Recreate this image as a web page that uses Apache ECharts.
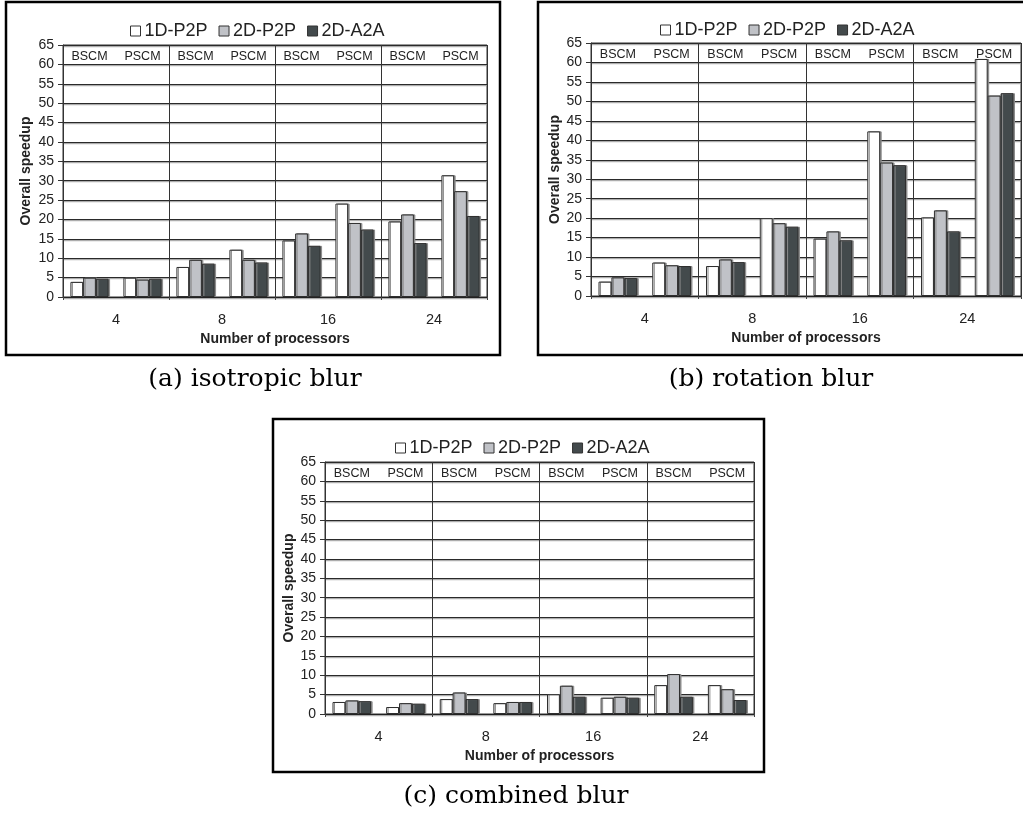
<!DOCTYPE html>
<html>
<head>
<meta charset="utf-8">
<script src="https://cdn.jsdelivr.net/npm/echarts@6/dist/echarts.min.js"></script>
<style>
html,body{margin:0;padding:0;background:#fff;}
#c{width:1023px;height:817px;}
</style>
</head>
<body>
<div id="c"></div>
<script>
// ---- data ----
const groups = ['4', '8', '16', '24'];
const methods = ['BSCM', 'PSCM'];
const seriesNames = ['1D-P2P', '2D-P2P', '2D-A2A'];
const yTicks = {min: 0, max: 65, interval: 5};

// isotropic blur
const iso1DP2P = [3.9, 5.0, 7.75, 12.2, 14.6, 24.1, 19.5, 31.4];
const iso2DP2P = [5.0, 4.5, 9.6, 9.6, 16.4, 19.1, 21.3, 27.3];
const iso2DA2A = [4.7, 4.7, 8.6, 8.9, 13.2, 17.4, 13.9, 20.9];
// rotation blur
const rot1DP2P = [3.7, 8.6, 7.7, 20.0, 14.75, 42.3, 20.2, 60.9];
const rot2DP2P = [4.8, 7.9, 9.4, 18.7, 16.6, 34.3, 22.0, 51.5];
const rot2DA2A = [4.6, 7.7, 8.7, 17.8, 14.3, 33.6, 16.6, 52.1];
// combined blur
const com1DP2P = [3.1, 1.8, 3.85, 2.8, 5.1, 4.2, 7.45, 7.45];
const com2DP2P = [3.5, 2.8, 5.55, 3.1, 7.3, 4.45, 10.3, 6.4];
const com2DA2A = [3.3, 2.65, 3.85, 3.1, 4.45, 4.2, 4.45, 3.6];

const captions = ['(a) isotropic blur', '(b) rotation blur', '(c) combined blur'];
const yName = 'Overall speedup';
const xName = 'Number of processors';

// ---- layout / style ----
const subCats = [];
groups.forEach(() => methods.forEach(m => subCats.push(m)));
const colors = ['#ffffff', '#c0c2c7', '#434a4c'];
const font = 'Liberation Sans, Arial, sans-serif';

const panels = [
  {grid: {left: 63, top: 45, width: 424, height: 252}, legend: {left: 125, top: 17}, yGap: 30,
   data: [iso1DP2P, iso2DP2P, iso2DA2A]},
  {grid: {left: 591, top: 43, width: 430, height: 253}, legend: {left: 655, top: 16}, yGap: 26,
   data: [rot1DP2P, rot2DP2P, rot2DA2A]},
  {grid: {left: 325, top: 462, width: 429, height: 252}, legend: {left: 390, top: 434}, yGap: 25,
   data: [com1DP2P, com2DP2P, com2DA2A]}
];

const option = {
  animation: false,
  backgroundColor: '#fff',
  textStyle: {fontFamily: font},
  grid: [], xAxis: [], yAxis: [], series: [], legend: [],
  graphic: []
};

panels.forEach((p, i) => {
  option.grid.push(Object.assign({show: true, borderColor: '#333', borderWidth: 1, backgroundColor: 'transparent'}, p.grid));
  // 8 sub-categories for bars
  option.xAxis.push({
    type: 'category', gridIndex: i, data: subCats, position: 'bottom',
    axisLine: {show: true, lineStyle: {color: '#222', width: 1}},
    axisTick: {show: false}, axisLabel: {show: false}, splitLine: {show: false}
  });
  // 4 groups for labels + separators
  option.xAxis.push({
    type: 'category', gridIndex: i, data: groups, position: 'bottom',
    axisLine: {show: false},
    axisTick: {show: true, length: 3, interval: 0, lineStyle: {color: '#444'}},
    axisLabel: {show: true, fontSize: 14.5, color: '#222', margin: 15, fontFamily: font},
    splitLine: {show: true, interval: 0, lineStyle: {color: '#333', width: 1}},
    name: xName, nameLocation: 'middle', nameGap: 35,
    nameTextStyle: {fontSize: 14, fontWeight: 'bold', color: '#222', fontFamily: font}
  });
  // top labels BSCM/PSCM
  option.xAxis.push({
    type: 'category', gridIndex: i, data: subCats, position: 'top',
    axisLine: {show: false}, axisTick: {show: false}, splitLine: {show: false},
    axisLabel: {show: true, inside: true, interval: 0, fontSize: 12.5, color: '#222', margin: 5, fontFamily: font}
  });
  option.yAxis.push({
    type: 'value', gridIndex: i, min: yTicks.min, max: yTicks.max, interval: yTicks.interval,
    axisLine: {show: true, lineStyle: {color: '#333'}},
    axisTick: {show: true, length: 5, lineStyle: {color: '#333'}},
    axisLabel: {fontSize: 14, color: '#222', margin: 9, fontFamily: font},
    splitLine: {show: true, lineStyle: {color: '#2a2a2a', width: 1, shadowColor: '#9a9a9a', shadowOffsetY: 1.2, shadowBlur: 0}},
    name: yName, nameLocation: 'middle', nameRotate: 90, nameGap: p.yGap,
    nameTextStyle: {fontSize: 14, fontWeight: 'bold', color: '#222', fontFamily: font}
  });
  seriesNames.forEach((n, k) => {
    option.series.push({
      type: 'bar', name: n, xAxisIndex: i * 3, yAxisIndex: i,
      data: p.data[k], barGap: '0%', barCategoryGap: '28%',
      itemStyle: {color: colors[k], borderColor: '#2e2e2e', borderWidth: 1,
        shadowColor: '#8a8a8a', shadowOffsetX: 1.5, shadowBlur: 0},
      z: 3
    });
  });
  option.legend.push({
    data: seriesNames, left: p.legend.left, top: p.legend.top, icon: 'rect',
    itemWidth: 10, itemHeight: 10, itemGap: 11,
    textStyle: {fontSize: 18, color: '#222', fontFamily: font, padding: [0, 0, 0, -1]},
    selectedMode: false,
    itemStyle: {borderColor: '#333', borderWidth: 1}
  });
});

// frames and captions
const capFont = '25px "DejaVu Serif", serif';
option.graphic = [
  {type: 'rect', shape: {x: 6, y: 2, width: 494, height: 353}, style: {fill: 'none', stroke: '#000', lineWidth: 2.5}, silent: true},
  {type: 'rect', shape: {x: 538, y: 2, width: 490, height: 353}, style: {fill: 'none', stroke: '#000', lineWidth: 2.5}, silent: true},
  {type: 'rect', shape: {x: 273, y: 419, width: 491, height: 353}, style: {fill: 'none', stroke: '#000', lineWidth: 2.5}, silent: true},
  {type: 'text', x: 255, y: 379, style: {text: captions[0], font: capFont, fill: '#000', textAlign: 'center', textVerticalAlign: 'middle'}},
  {type: 'text', x: 771, y: 379, style: {text: captions[1], font: capFont, fill: '#000', textAlign: 'center', textVerticalAlign: 'middle'}},
  {type: 'text', x: 516, y: 796, style: {text: captions[2], font: capFont, fill: '#000', textAlign: 'center', textVerticalAlign: 'middle'}}
];

const chart = echarts.init(document.getElementById('c'), null, {renderer: 'canvas'});
chart.setOption(option);
</script>
</body>
</html>
